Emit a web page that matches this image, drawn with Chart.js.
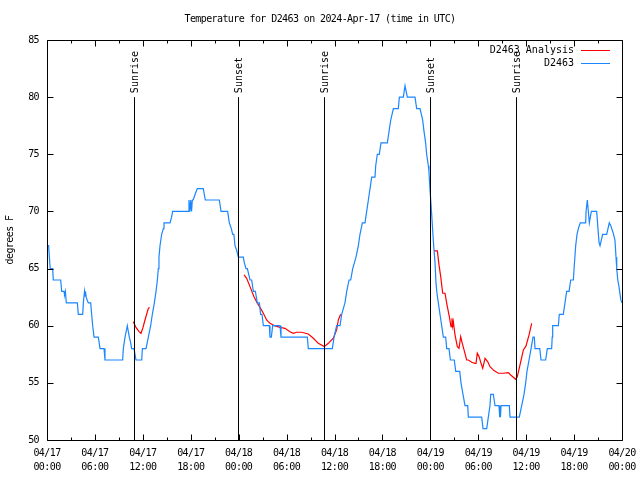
<!DOCTYPE html>
<html><head><meta charset="utf-8">
<script src="https://cdn.jsdelivr.net/npm/chart.js@4/dist/chart.umd.min.js"></script>
<style>html,body{margin:0;padding:0;background:#fff;} #wrap{width:640px;height:480px;position:relative;}</style>
</head><body><div id="wrap"><canvas id="c" width="640" height="480"></canvas></div>
<script>
const chartTitle = 'Temperature for D2463 on 2024-Apr-17 (time in UTC)';
const yAxisLabel = 'degrees F';
const seriesNames = ['D2463 Analysis', 'D2463'];
const seriesColors = ['#ff0000', '#1a86ff'];
const xTickDates = ['04/17','04/17','04/17','04/17','04/18','04/18','04/18','04/18','04/19','04/19','04/19','04/19','04/20'];
const xTickTimes = ['00:00','06:00','12:00','18:00','00:00','06:00','12:00','18:00','00:00','06:00','12:00','18:00','00:00'];
const yTicks = [50,55,60,65,70,75,80,85];
const sunHours = [10.9, 23.92, 34.69, 47.96, 58.73];
const sunLabels = ['Sunrise','Sunset','Sunrise','Sunset','Sunrise'];

// observed D2463 (hours since 04/17 00:00 UTC, deg F)
const obsHours = [0.08,0.2,0.3,0.4,0.71,0.79,1.71,1.84,2.13,2.2,2.3,2.42,3.8,3.92,4.47,4.55,4.7,4.76,4.82,4.9,5.17,5.47,5.59,5.72,5.89,6.43,6.64,7.14,7.26,9.47,9.56,9.77,10.06,10.18,10.31,10.48,10.6,10.9,11.14,11.86,11.94,12.4,12.69,12.98,13.19,13.44,13.65,13.82,13.94,14.02,14.15,14.36,14.57,14.65,15.4,15.6,15.73,17.7,17.78,17.9,18.0,18.1,18.2,18.3,18.55,18.82,19.57,19.82,21.58,21.79,22.62,22.83,23.08,23.25,23.4,23.54,23.75,23.96,24.58,24.71,24.92,25.09,25.42,25.63,25.84,26.09,26.34,26.59,26.75,26.92,27.09,27.84,27.92,28.09,28.26,29.18,29.3,32.6,32.72,35.73,35.94,36.27,36.69,36.9,37.31,37.53,37.82,38.03,38.28,38.69,38.99,39.19,39.49,39.82,40.03,40.24,40.45,40.66,41.07,41.16,41.36,41.61,41.82,42.62,42.83,43.04,43.37,43.99,44.12,44.62,44.83,44.95,45.12,46.08,46.29,46.71,47.04,47.21,47.41,47.54,47.75,47.83,47.92,48.08,48.21,48.34,48.46,48.59,48.71,48.84,49.0,49.21,49.42,49.63,49.92,50.05,50.34,50.51,51.0,51.18,51.68,51.84,52.09,52.34,52.68,52.76,54.43,54.6,55.06,55.26,55.47,55.56,55.89,56.1,56.6,56.65,56.72,56.78,56.85,57.89,57.98,59.14,59.44,59.73,59.94,60.1,60.36,60.61,60.86,61.02,61.11,61.7,61.86,62.44,62.65,63.19,63.26,63.32,64.03,64.15,64.65,64.86,65.07,65.37,65.58,65.91,66.0,66.2,66.37,66.57,66.78,67.45,67.5,67.66,67.91,68.16,68.83,69.12,69.25,69.58,70.08,70.41,70.62,70.9,71.12,71.25,71.34,71.47,71.63,71.84,72.0];
const obsTemps = [67,67,66,65,65,64,64,63,63,62.7,63,62,62,61,61,62,63,62.6,63,62.5,62,62,61,60,59,59,58,58,57,57,58,59,60,59.5,59,58.5,58,58,57,57,58,58,59,60,61,62,63,64,65,66,67,68,68.5,69,69,69.5,70,70,71,70,71,70,71,71,71.5,72,72,71,71,70,70,69,68.5,68,68,67,66.6,66,66,65.5,65,65,64,64,63,63,62,62,61,61,60,60,59,59,60,60,59,59,58,58,59,60,60,61,62,63,64,64,65,66,67,68,69,69,70,71,72,73,73,74,75,75,76,76,77,78,79,79,80,80,81,81,80,80,79,79,78,77,76,75,74,73.5,72.3,70.7,69.3,67.8,66.6,65.5,63.7,62.8,62,61,60,59,59,58,58,57,57,56,56,55,54,53,53,52,52,51,51,52,53,54,54,53,53,52,53,52,53,53,52,52,53,54,55,56,57,58,59,59,58,58,57,57,58,58,59,60,60,61,61,62,63,63,64,64,65,67,68,68.6,69,69,70,71,69,70,70,67.3,67,68,68,69,68.7,68.1,67.5,66,65,64,63.4,62.3,62];

// analysis D2463 (null = gap between runs)
const anaHours = [10.81,11.1,11.5,11.77,12.0,12.27,12.69,12.85,null,24.67,25.0,25.42,25.92,26.34,26.75,27.09,27.5,27.92,28.55,29.18,29.8,30.43,30.84,31.26,31.89,32.72,33.35,33.97,34.72,35.23,35.85,36.27,36.48,36.77,null,48.46,48.88,49.09,49.3,49.55,49.84,50.05,50.38,50.59,50.71,50.8,50.88,51.09,51.38,51.59,51.8,52.0,52.22,52.55,52.76,53.18,53.59,53.72,53.88,54.1,54.35,54.56,54.85,55.18,55.47,55.97,56.51,57.14,57.77,58.06,58.69,58.89,59.23,59.65,59.98,60.36,60.69];
const anaTemps = [60.35,59.9,59.5,59.33,59.8,60.5,61.52,61.6,null,64.44,64.15,63.42,62.54,61.96,61.52,61.09,60.5,60.21,59.98,59.86,59.77,59.48,59.33,59.43,59.43,59.28,58.9,58.46,58.17,58.46,58.9,59.63,60.5,61.0,null,66.54,66.54,65.3,64.3,62.84,62.84,61.96,60.79,59.92,60.65,59.98,60.35,59.19,58.17,58.03,59.04,58.46,57.88,57.0,57.0,56.8,56.71,56.71,57.59,57.3,56.71,56.27,57.15,56.86,56.42,56.07,55.84,55.84,55.9,55.69,55.31,55.54,56.57,57.88,58.23,59.19,60.21];

const FONT = "'DejaVu Sans Mono', 'Liberation Mono', monospace";

function toPoints(hs, vs) {
  const out = []; let lastX = 0;
  for (let i = 0; i < hs.length; i++) {
    if (hs[i] === null) { out.push({x: lastX, y: null}); }
    else { out.push({x: hs[i], y: vs[i]}); lastX = hs[i]; }
  }
  return out;
}

const spacingPlugin = {
  id: 'spacing',
  beforeDraw(chart) { chart.ctx.letterSpacing = '-0.6px'; }
};

const framePlugin = {
  id: 'frame',
  afterDatasetsDraw(chart) {
    const {ctx, chartArea: a, scales: {x, y}} = chart;
    ctx.save();
    ctx.letterSpacing = '0px';
    ctx.strokeStyle = '#000'; ctx.lineWidth = 1;
    ctx.font = '10px ' + FONT; ctx.fillStyle = '#000';
    sunHours.forEach((h, i) => {
      const px = Math.round(x.getPixelForValue(h)) + 0.5;
      const yb = y.getPixelForValue(50), yt = y.getPixelForValue(80);
      ctx.beginPath(); ctx.moveTo(px, yb); ctx.lineTo(px, yt); ctx.stroke();
      ctx.save();
      ctx.translate(px + 1, yt - 4);
      ctx.rotate(-Math.PI / 2);
      ctx.textAlign = 'left'; ctx.textBaseline = 'middle';
      ctx.fillText(sunLabels[i], 0, 0);
      ctx.restore();
    });
    const L = Math.round(a.left) + 0.5, R = Math.round(a.right) + 0.5;
    const T = Math.round(a.top) + 0.5, B = Math.round(a.bottom) + 0.5;
    ctx.beginPath(); ctx.rect(L, T, R - L, B - T); ctx.stroke();
    yTicks.forEach(v => {
      const py = Math.round(y.getPixelForValue(v)) + 0.5;
      ctx.beginPath();
      ctx.moveTo(L, py); ctx.lineTo(L + 6, py);
      ctx.moveTo(R, py); ctx.lineTo(R - 6, py);
      ctx.stroke();
    });
    for (let h = 0; h <= 72; h += 3) {
      const px = Math.round(x.getPixelForValue(h)) + 0.5;
      const len = (h % 6 === 0) ? 6 : 3;
      ctx.beginPath();
      ctx.moveTo(px, B); ctx.lineTo(px, B - len);
      ctx.moveTo(px, T); ctx.lineTo(px, T + len);
      ctx.stroke();
    }
    ctx.textAlign = 'right'; ctx.textBaseline = 'middle';
    chart.data.datasets.forEach((ds, i) => {
      const ly = 50 + i * 13;
      ctx.fillStyle = '#000';
      ctx.fillText(ds.label, a.right - 48, ly);
      ctx.strokeStyle = ds.borderColor;
      ctx.beginPath(); ctx.moveTo(a.right - 41, ly + 0.5); ctx.lineTo(a.right - 12, ly + 0.5); ctx.stroke();
    });
    ctx.restore();
  }
};

new Chart(document.getElementById('c'), {
  type: 'line',
  data: {
    datasets: [
      { label: seriesNames[0], data: toPoints(anaHours, anaTemps), borderColor: seriesColors[0], borderWidth: 1.2, pointRadius: 0, tension: 0, spanGaps: false, order: 2 },
      { label: seriesNames[1], data: toPoints(obsHours, obsTemps), borderColor: seriesColors[1], borderWidth: 1.2, pointRadius: 0, tension: 0, spanGaps: false, order: 1 }
    ]
  },
  options: {
    responsive: false,
    animation: false,
    layout: { padding: 0 },
    plugins: {
      legend: { display: false },
      tooltip: { enabled: false },
      title: { display: true, text: chartTitle, color: '#000', font: { family: FONT, size: 10, weight: 'normal' }, padding: { top: 13, bottom: 15 } }
    },
    scales: {
      x: {
        type: 'linear', min: 0, max: 72,
        grid: { display: false, drawTicks: false }, border: { display: false },
        afterFit(s) { s.height = 40; s.paddingLeft = 0; s.paddingRight = 18; },
        ticks: {
          stepSize: 6, autoSkip: false, maxRotation: 0, color: '#000', padding: 6,
          font: { family: FONT, size: 10, lineHeight: 1.4 },
          callback(v) { const i = Math.round(v / 6); return [xTickDates[i], xTickTimes[i]]; }
        }
      },
      y: {
        min: 50, max: 85,
        grid: { display: false, drawTicks: false }, border: { display: false },
        afterFit(s) { s.width = 47; s.paddingTop = 0; s.paddingBottom = 0; },
        title: { display: true, text: yAxisLabel, color: '#000', font: { family: FONT, size: 10 }, padding: { top: 4, bottom: 0 } },
        ticks: { stepSize: 5, color: '#000', padding: 8, font: { family: FONT, size: 10 } }
      }
    }
  },
  plugins: [spacingPlugin, framePlugin]
});
</script>
</body></html>
